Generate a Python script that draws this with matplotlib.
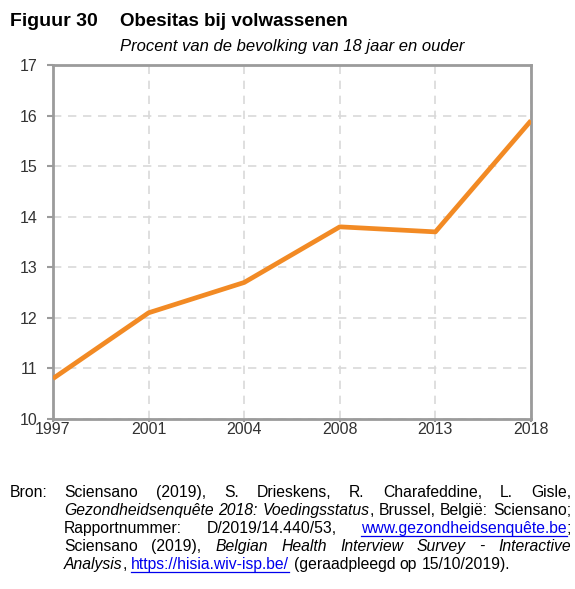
import matplotlib.pyplot as plt
from matplotlib.lines import Line2D

plt.rcParams["font.family"] = ["Liberation Sans", "DejaVu Sans"]

years = ["1997", "2001", "2004", "2008", "2013", "2018"]
obesity = [10.8, 12.1, 12.7, 13.8, 13.7, 15.9]
y_ticks = [10, 11, 12, 13, 14, 15, 16, 17]

W, H = 575, 589
fig = plt.figure(figsize=(W / 100, H / 100), dpi=100)
ax = fig.add_axes([53 / W, 1 - 419 / H, (531 - 53) / W, (419 - 65) / H])

x = list(range(len(years)))
ax.plot(x, obesity, color="#F28A24", lw=3.4, solid_capstyle="butt", zorder=3)
ax.set_xlim(0, len(years) - 1)
ax.set_ylim(10, 17)
ax.set_xticks(x)
ax.set_xticklabels(years)
ax.set_yticks(y_ticks)
ax.grid(True, color="#D9D9D9", ls=(0, (5, 4)), lw=1.2)
for s in ax.spines.values():
    s.set_color("#9B9B9B")
    s.set_linewidth(2)
ax.tick_params(colors="#9B9B9B", labelcolor="#333333", labelsize=11.5, length=4, width=1.5)
ax.tick_params(axis="y", pad=7)
ax.tick_params(axis="x", pad=0, length=2)

# titles
def fx(px):
    return px / W

def fy(py):
    return 1 - py / H

fig.text(fx(10), fy(22), "Figuur 30", fontsize=14, fontweight="bold", va="center")
fig.text(fx(120), fy(22), "Obesitas bij volwassenen", fontsize=13.5, fontweight="bold", va="center")
fig.text(fx(120), fy(46), "Procent van de bevolking van 18 jaar en ouder", fontsize=12, style="italic", va="center")

# source note, justified
renderer = fig.canvas.get_renderer()
fs = 11.3
fig.text(fx(10), fy(497), "Bron:", fontsize=fs, va="baseline")

lines = [
    [[("Sciensano", "n")], [("(2019),", "n")], [("S.", "n")], [("Drieskens,", "n")], [("R.", "n")],
     [("Charafeddine,", "n")], [("L.", "n")], [("Gisle,", "n")]],
    [[("Gezondheidsenquête", "i")], [("2018:", "i")], [("Voedingsstatus", "i"), (",", "n")],
     [("Brussel,", "n")], [("België:", "n")], [("Sciensano;", "n")]],
    [[("Rapportnummer:", "n")], [("D/2019/14.440/53,", "n")], [("www.gezondheidsenquête.be", "l"), (";", "n")]],
    [[("Sciensano", "n")], [("(2019),", "n")], [("Belgian", "i")], [("Health", "i")], [("Interview", "i")],
     [("Survey", "i")], [("-", "i")], [("Interactive", "i")]],
    [[("Analysis", "i"), (",", "n")], [("https://hisia.wiv-isp.be/", "l")], [("(geraadpleegd", "n")],
     [("op", "n")], [("15/10/2019).", "n")]],
]
left, right = 64, 571
t1 = fig.text(0, 0, "a a", fontsize=fs)
t2 = fig.text(0, 0, "aa", fontsize=fs)
space = t1.get_window_extent(renderer).width - t2.get_window_extent(renderer).width
t1.remove()
t2.remove()

def seg_text(px, py, s, style):
    kw = dict(fontsize=fs, va="baseline", ha="left")
    if style == "i":
        kw["style"] = "italic"
    if style == "l":
        kw["color"] = "#0000EE"
    t = fig.text(fx(px), fy(py), s, **kw)
    w = t.get_window_extent(renderer).width
    if style == "l":
        fig.add_artist(Line2D([fx(px), fx(px + w)], [fy(py + 2.5), fy(py + 2.5)], color="#0000EE", lw=0.9))
    return w

def word_width(word):
    tot = 0
    for s, st in word:
        t = fig.text(0, 0, s, fontsize=fs, style="italic" if st == "i" else "normal")
        tot += t.get_window_extent(renderer).width
        t.remove()
    return tot

for i, line in enumerate(lines):
    py = 497 + i * 18
    widths = [word_width(w) for w in line]
    last = i == len(lines) - 1
    gap = space if last else (right - left - sum(widths)) / (len(line) - 1)
    px = left
    for w, ww in zip(line, widths):
        cx = px
        for s, st in w:
            cx += seg_text(cx, py, s, st)
        px += ww + gap

fig.savefig("out.png", dpi=100)
